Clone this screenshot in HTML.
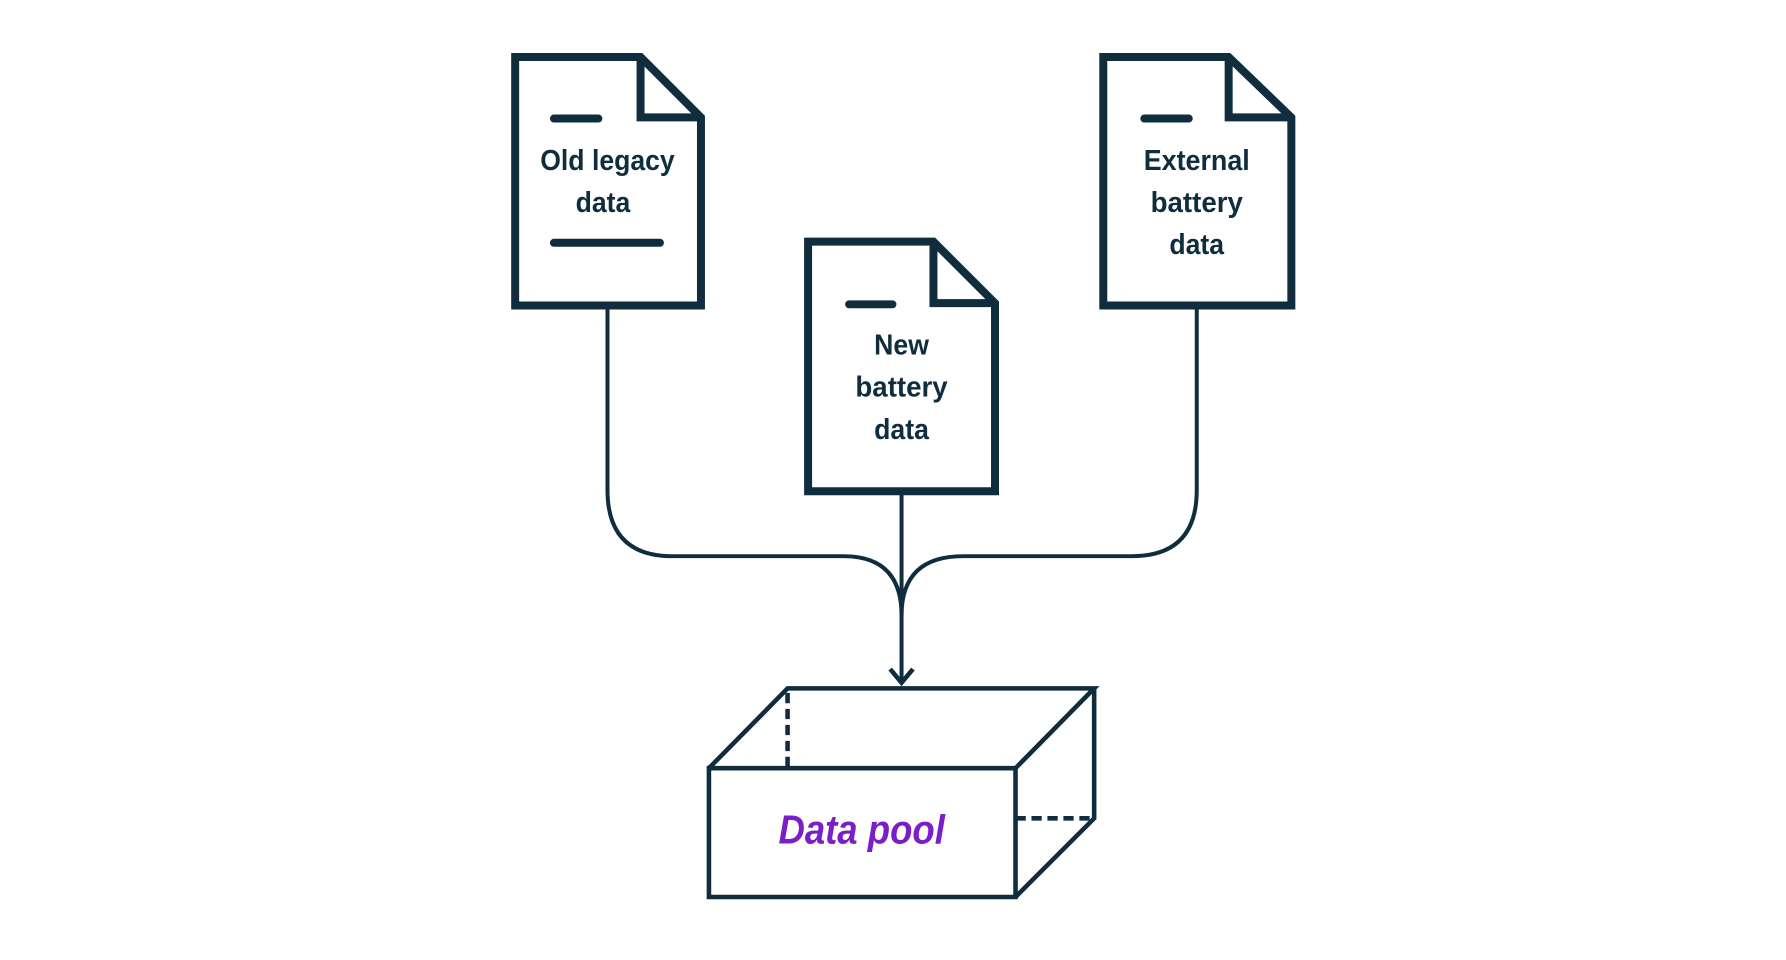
<!DOCTYPE html>
<html><head><meta charset="utf-8"><style>
html,body{margin:0;padding:0;background:#fff;}
svg{display:block;}
text{font-family:"Liberation Sans",sans-serif;font-weight:bold;}
</style></head><body>
<svg width="1786" height="960" viewBox="0 0 1567 842.3" preserveAspectRatio="none" xmlns="http://www.w3.org/2000/svg">
<g fill="none" stroke="#0f2d3d" stroke-linejoin="miter">
  <g stroke-width="3.5">
    <path d="M533 268 V430 Q533 488 590 488 H740 Q791 488 791 540"/>
    <path d="M1050 268 V430 Q1050 488 993 488 H845 Q791 488 791 540"/>
    <path d="M791 431 V598"/>
    <path d="M781 587 L791 599 L801 587" stroke-width="4"/>
  </g>
  <g stroke-width="7">
    <path d="M452 50 H562 L615 103 V268 H452 Z"/>
    <path d="M562 50 V103 H615"/>
    <path d="M709 212 H819 L873 266 V431 H709 Z"/>
    <path d="M819 212 V266 H873"/>
    <path d="M968 50 H1078 L1133 103 V268 H968 Z"/>
    <path d="M1078 50 V103 H1133"/>
  </g>
  <g stroke-width="7" stroke-linecap="round">
    <path d="M486 104 H525"/>
    <path d="M486 213 H579"/>
    <path d="M745 267 H783"/>
    <path d="M1004 104 H1043"/>
  </g>
  <g stroke-width="4">
    <path d="M622 674 H891 V787 H622 Z"/>
    <path d="M622 674 L691 604 H960 L891 674"/>
    <path d="M960 604 V718 L891 787"/>
    <path d="M691 608 V674 M891 718 H960" stroke-dasharray="9 5"/>
  </g>
</g>
<g fill="#0f2d3d" font-size="25" text-anchor="middle">
  <text x="533" y="149" textLength="118" lengthAdjust="spacingAndGlyphs">Old legacy</text>
  <text x="529" y="186" textLength="48" lengthAdjust="spacingAndGlyphs">data</text>
  <text x="791" y="311" textLength="48" lengthAdjust="spacingAndGlyphs">New</text>
  <text x="791" y="348" textLength="81" lengthAdjust="spacingAndGlyphs">battery</text>
  <text x="791" y="385" textLength="48" lengthAdjust="spacingAndGlyphs">data</text>
  <text x="1050" y="149" textLength="93" lengthAdjust="spacingAndGlyphs">External</text>
  <text x="1050" y="186" textLength="81" lengthAdjust="spacingAndGlyphs">battery</text>
  <text x="1050" y="223" textLength="48" lengthAdjust="spacingAndGlyphs">data</text>
</g>
<text x="756" y="740" fill="#7a1fc8" font-size="36" font-style="italic" text-anchor="middle" textLength="146" lengthAdjust="spacingAndGlyphs">Data pool</text>
</svg>
</body></html>
